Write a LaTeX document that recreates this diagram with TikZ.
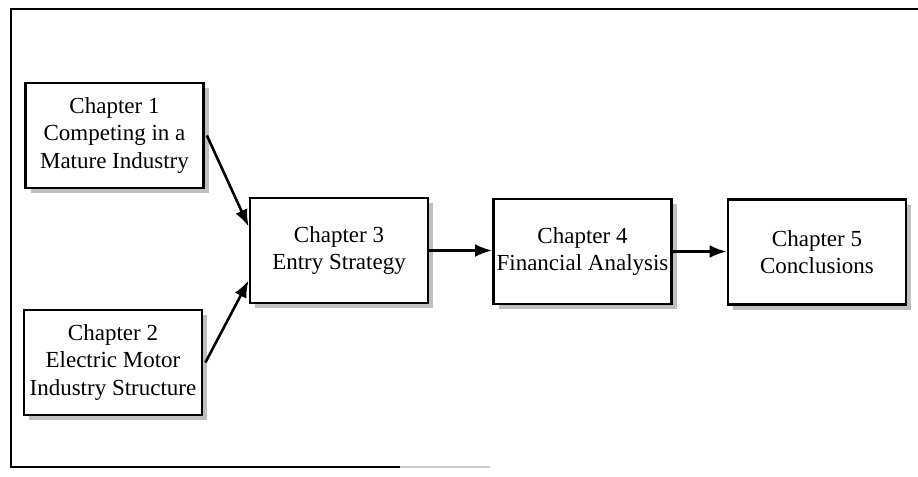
\documentclass[tikz,border=0pt]{standalone}
\usepackage{fontspec}
\setmainfont{Liberation Serif}
\usetikzlibrary{arrows.meta,shadows}

\begin{document}
\begin{tikzpicture}[x=0.5pt,y=-0.5pt,
  chapbox/.style={draw,line width=1.4pt,fill=white,minimum width=89pt,minimum height=52.5pt,
    align=center,inner sep=1pt,font=\fontsize{11.5}{13.75}\selectfont,
    drop shadow={shadow xshift=2.6pt,shadow yshift=-2.6pt,fill=gray!50,opacity=1}},
  flow/.style={line width=1.3pt,-{Latex[length=8.5pt,width=6.5pt]}}]
\useasboundingbox (0,0) rectangle (918,477);
% frame
\draw[thick] (918,9) -- (11,9) -- (11,467) -- (400,467);
\draw[gray!40,thick] (400,467) -- (490,467);
% chapters
\node[chapbox] (ch1) at (114.5,135.5) {Chapter 1\\Competing in a\\Mature Industry};
\node[chapbox] (ch2) at (113,362.5) {Chapter 2\\Electric Motor\\Industry Structure};
\node[chapbox] (ch3) at (339,250.5) {Chapter 3\\Entry Strategy};
\node[chapbox] (ch4) at (582.5,251.5) {Chapter 4\\Financial Analysis};
\node[chapbox] (ch5) at (817,252) {Chapter 5\\Conclusions};
% links
\draw[flow] ([xshift=1pt]ch1.east) -- ([yshift=12pt]ch3.west);
\draw[flow] ([xshift=1pt]ch2.east) -- ([yshift=-15pt]ch3.west);
\draw[flow] (ch3.east) -- (ch3.east -| ch4.west);
\draw[flow] (ch4.east) -- (ch4.east -| ch5.west);
\end{tikzpicture}
\end{document}
